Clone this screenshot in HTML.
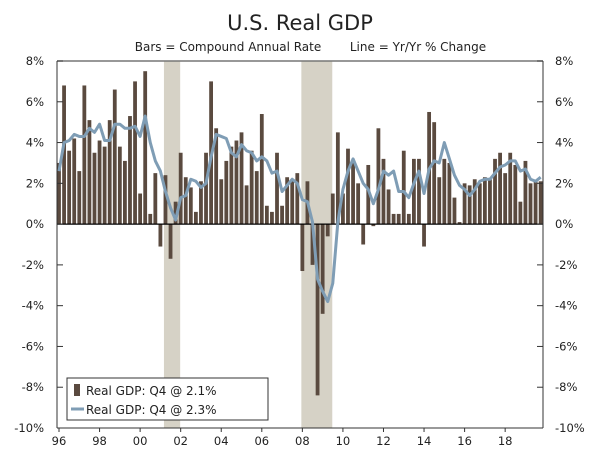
<!DOCTYPE html>
<html><head><meta charset="utf-8"><style>
body{margin:0;background:#fff;}
svg text{font-family:"DejaVu Sans","Liberation Sans",sans-serif;fill:#222;}
</style></head><body>
<svg id="chart" width="600" height="460" viewBox="0 0 600 460" xmlns="http://www.w3.org/2000/svg">
<text x="300" y="30" text-anchor="middle" font-size="21">U.S. Real GDP</text>
<text x="228" y="51" text-anchor="middle" font-size="12">Bars = Compound Annual Rate</text>
<text x="418" y="51" text-anchor="middle" font-size="12">Line = Yr/Yr % Change</text>
<g id="shades"></g><g id="bars"></g><g id="axes"></g><g id="line"></g>
<g>
<rect x="67" y="378" width="201" height="42" fill="#fff" stroke="#333" stroke-width="1"/>
<rect x="74" y="384" width="6" height="12" fill="#5a4a3f"/>
<text x="86" y="395" font-size="12">Real GDP: Q4 @ 2.1%</text>
<line x1="71" y1="409" x2="84" y2="409" stroke="#7f9db5" stroke-width="3"/>
<text x="86" y="414" font-size="12">Real GDP: Q4 @ 2.3%</text>
</g>
</svg>
<script>
const years=["96","98","00","02","04","06","08","10","12","14","16","18"];
const yTicks=[8,6,4,2,0,-2,-4,-6,-8,-10];
const barValues=[3.0,6.8,3.6,4.2, 2.6,6.8,5.1,3.5, 4.1,3.8,5.1,6.6, 3.8,3.1,5.3,7.0, 1.5,7.5,0.5,2.5,
 -1.1,2.4,-1.7,1.1, 3.5,2.3,1.8,0.6, 2.1,3.5,7.0,4.7,
 2.2,3.1,3.8,4.1, 4.5,1.9,3.6,2.6, 5.4,0.9,0.6,3.5, 0.9,2.3,2.2,2.5,
 -2.3,2.1,-2.0,-8.4, -4.4,-0.6,1.5,4.5, 1.5,3.7,3.0,2.0, -1.0,2.9,-0.1,4.7,
 3.2,1.7,0.5,0.5, 3.6,0.5,3.2,3.2, -1.1,5.5,5.0,2.3, 3.2,3.0,1.3,0.1,
 2.0,1.9,2.2,2.0, 2.3,2.2,3.2,3.5, 2.5,3.5,2.9,1.1, 3.1,2.0,2.1,2.1];
const lineValues=[2.6,4.0,4.1,4.4, 4.3,4.3,4.7,4.5, 4.9,4.1,4.1,4.9, 4.9,4.7,4.7,4.8, 4.3,5.3,4.0,3.1,
 2.6,1.6,0.8,0.2, 1.3,1.4,2.2,2.1, 1.8,2.0,3.3,4.4,
 4.3,4.2,3.5,3.3, 3.9,3.6,3.5,3.1, 3.3,3.1,2.5,2.6, 1.6,1.9,2.2,2.0,
 1.2,1.1,0.1,-2.7, -3.3,-3.8,-2.9,0.1, 1.7,2.6,3.2,2.6, 2.0,1.7,1.0,1.7,
 2.6,2.4,2.6,1.6, 1.6,1.3,2.0,2.6, 1.5,2.7,3.1,3.0, 4.0,3.2,2.4,1.9,
 1.7,1.4,1.7,2.1, 2.2,2.2,2.5,2.8, 2.9,3.1,3.1,2.6, 2.7,2.2,2.1,2.3];
const recessions=[[20.7,23.9],[47.8,53.9]];
const NS="http://www.w3.org/2000/svg";
const L=57,R=543,T=61,B=428;
const xq=n=>59+n*5.07;
const yv=v=>T+(8-v)*(B-T)/18;
function mk(t,a,p){const e=document.createElementNS(NS,t);for(const k in a)e.setAttribute(k,a[k]);p.appendChild(e);return e;}
const sh=document.getElementById('shades'),bg=document.getElementById('bars'),ax=document.getElementById('axes'),lg=document.getElementById('line');
recessions.forEach(r=>{const e=mk('rect',{x:xq(r[0]),y:T,width:xq(r[1])-xq(r[0]),height:B-T,fill:'#d6d2c6'},sh);

});
barValues.forEach((v,i)=>{const y0=yv(0),y1=yv(v);const e=mk('rect',{x:xq(i)-1.9,y:Math.min(y0,y1),width:3.8,height:Math.abs(y1-y0),fill:'#5a4a3f'},bg);

});
mk('line',{x1:L,y1:T,x2:R,y2:T,stroke:'#777','stroke-width':1.5},ax);
mk('line',{x1:L,y1:T,x2:L,y2:B,stroke:'#333','stroke-width':1},ax);
mk('line',{x1:R,y1:T,x2:R,y2:B,stroke:'#333','stroke-width':1},ax);
mk('line',{x1:L,y1:B,x2:R,y2:B,stroke:'#333','stroke-width':1},ax);
mk('line',{x1:L,y1:yv(0),x2:R,y2:yv(0),stroke:'#000','stroke-width':1.2},ax);
yTicks.forEach(v=>{const y=yv(v);
mk('line',{x1:L,y1:y,x2:L+6,y2:y,stroke:'#333'},ax);
mk('line',{x1:R-6,y1:y,x2:R,y2:y,stroke:'#333'},ax);
const a=mk('text',{x:L-13,y:y+4,'text-anchor':'end','font-size':11.5},ax);a.textContent=v+'%';


const b=mk('text',{x:R+12,y:y+4,'font-size':11.5},ax);b.textContent=v+'%';

});
years.forEach((t,i)=>{const x=xq(i*8);
mk('line',{x1:x,y1:B,x2:x,y2:B+4,stroke:'#333'},ax);
const e=mk('text',{x:x,y:B+17,'text-anchor':'middle','font-size':11.5},ax);e.textContent=t;

});
const pl=mk('polyline',{points:lineValues.map((v,i)=>xq(i)+','+yv(v)).join(' '),fill:'none',stroke:'#7f9db5','stroke-width':3,'stroke-linejoin':'round'},lg);


</script>
</body></html>
